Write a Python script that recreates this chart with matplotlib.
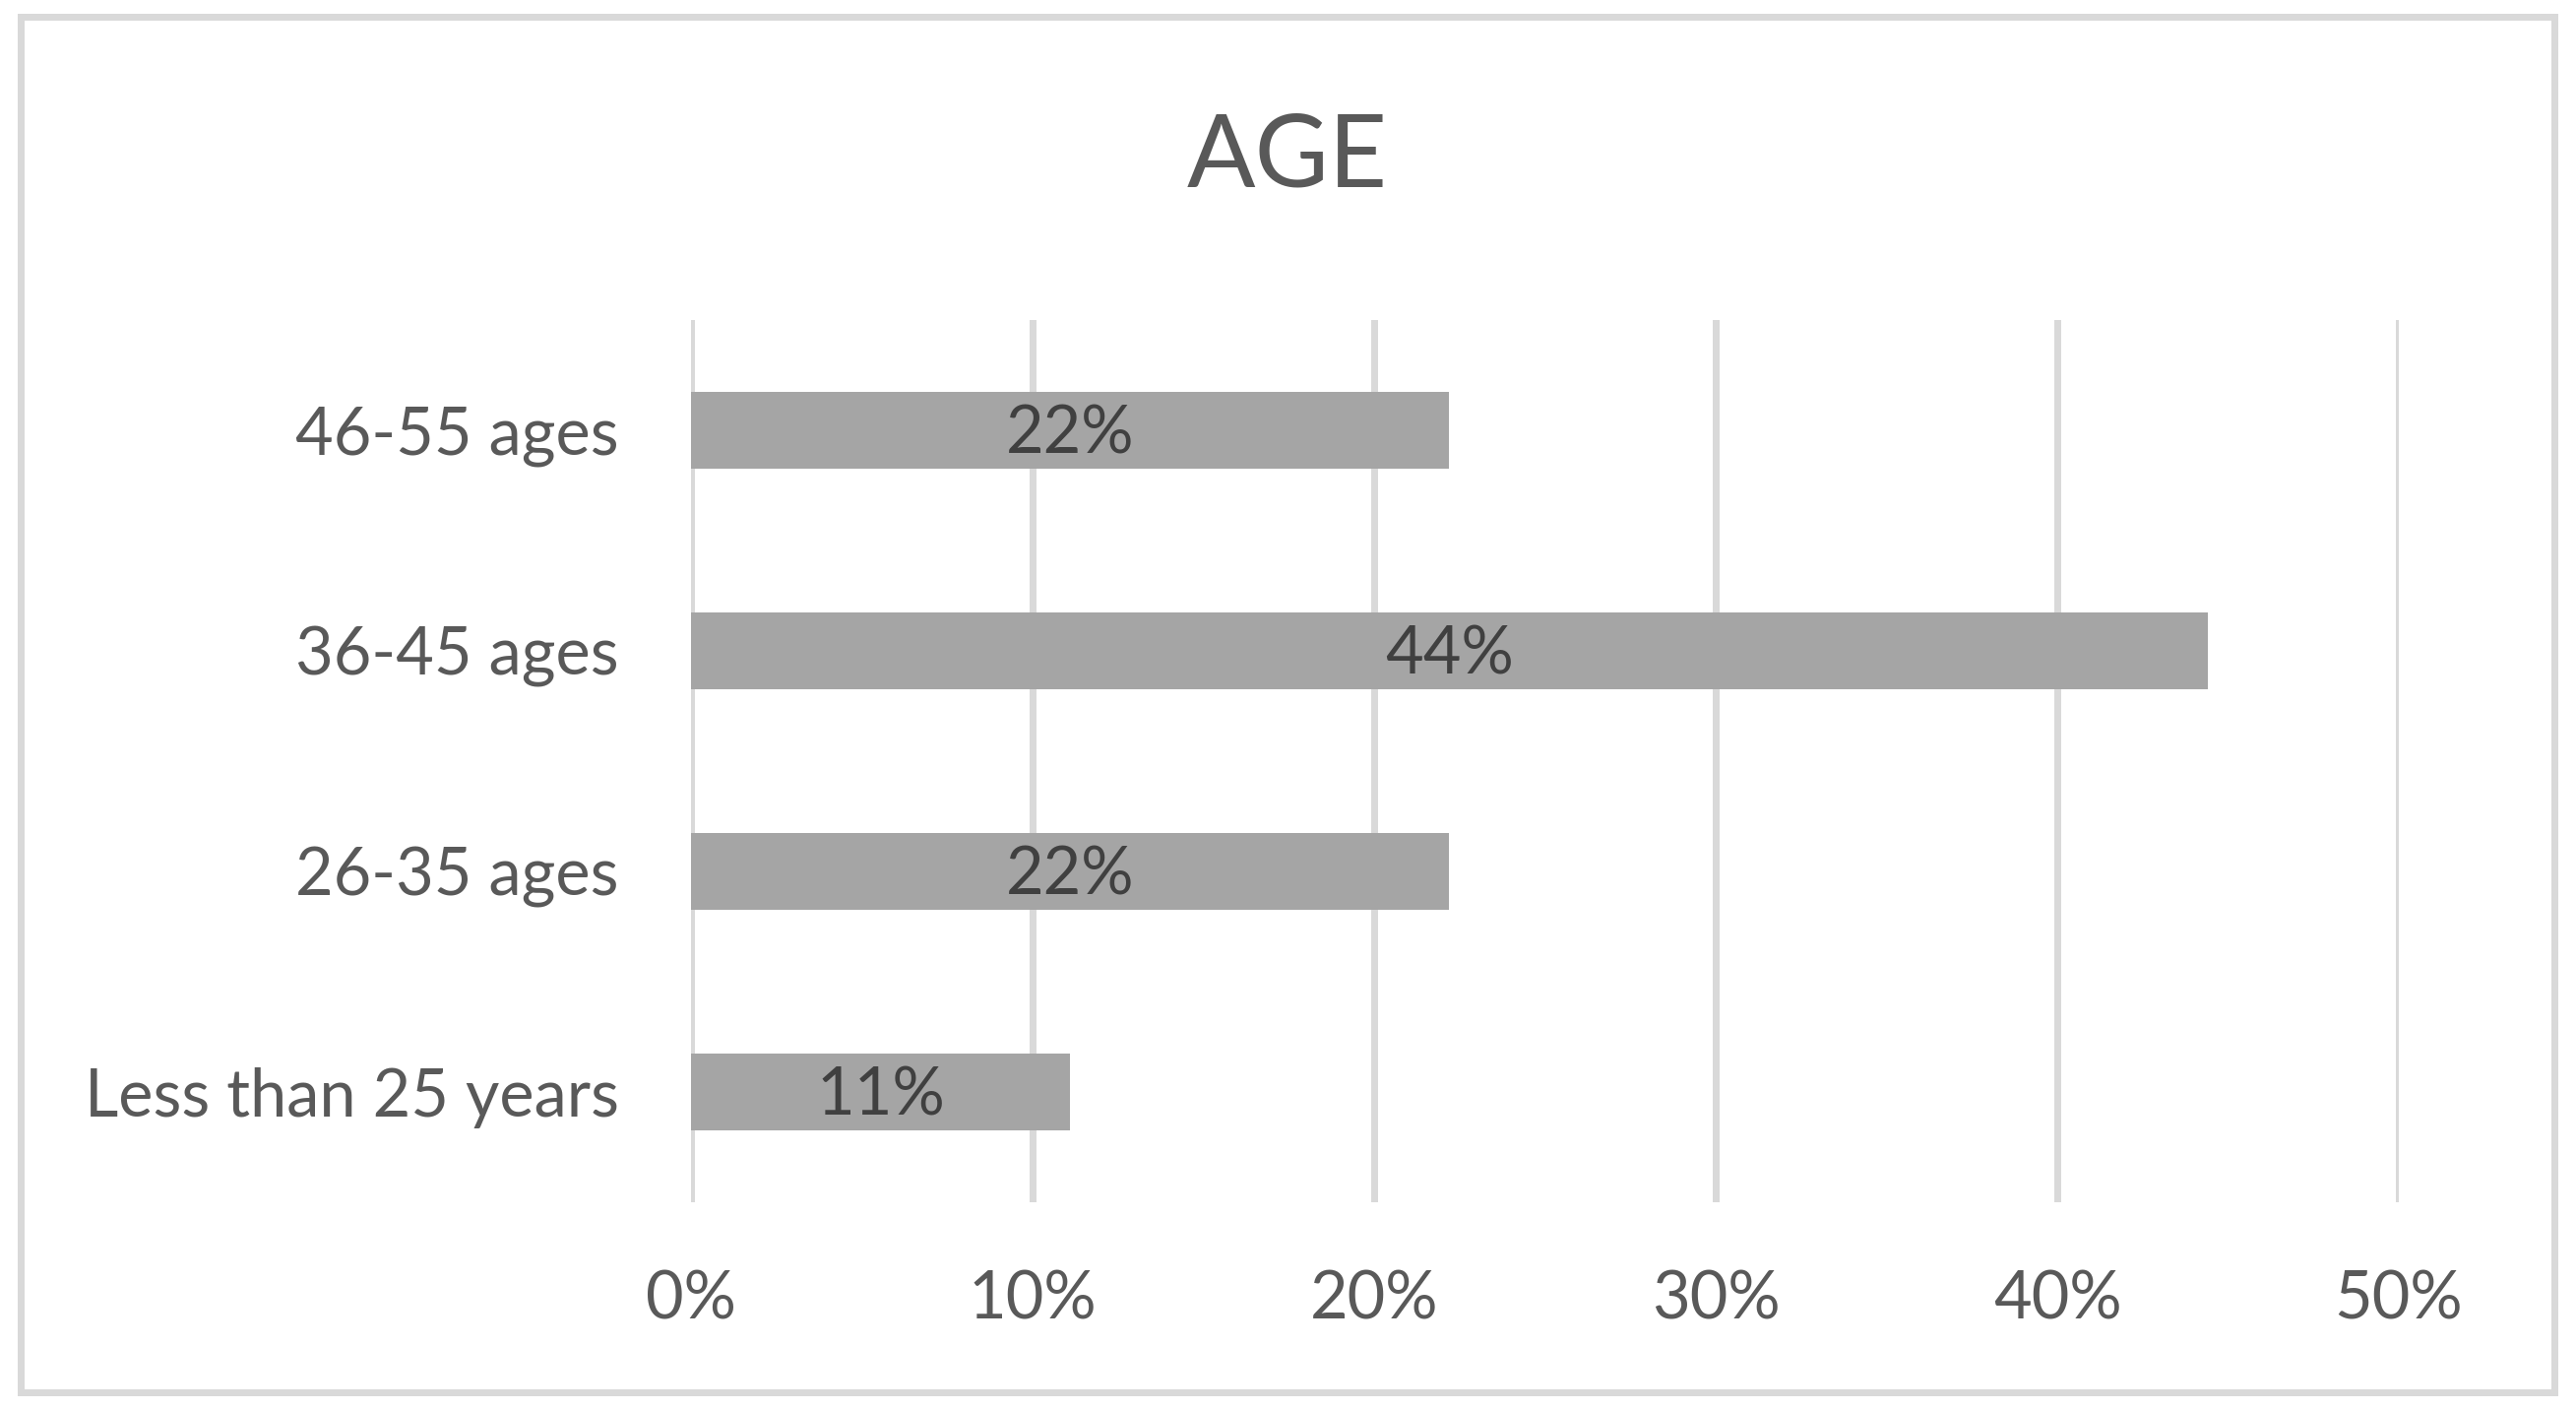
import matplotlib
matplotlib.use("Agg")
import matplotlib.pyplot as plt
from matplotlib.patches import Rectangle
from matplotlib.ticker import FuncFormatter, MultipleLocator

categories = ["Less than 25 years", "26-35 ages", "36-45 ages", "46-55 ages"]
values = [0.111, 0.222, 0.444, 0.222]
title = "AGE"

W, H = 2617, 1432
DPI = 100
plt.rcParams['font.family'] = ['Lato', 'DejaVu Sans']

fig = plt.figure(figsize=(W / DPI, H / DPI), dpi=DPI)
fig.patch.set_facecolor("white")

# outer chart border
px = lambda p: p * 72 / DPI
fig.add_artist(Rectangle((20.5 / W, 1 - 1413.5 / H), (2595 - 20.5) / W, (1413.5 - 16.5) / H,
                         transform=fig.transFigure, fill=False, edgecolor="#D9D9D9",
                         linewidth=px(7), zorder=0))

ax = fig.add_axes([702 / W, 1 - 1221 / H, (2437 - 702) / W, (1221 - 325) / H])
ypos = list(range(len(categories)))
ax.barh(ypos, values, height=0.35, color="#A5A5A5", zorder=3)
ax.set_xlim(0, 0.5)
ax.set_ylim(-0.5, len(categories) - 0.5)
ax.xaxis.set_major_locator(MultipleLocator(0.1))
ax.xaxis.set_major_formatter(FuncFormatter(lambda v, p: f"{v*100:.0f}%"))
ax.set_yticks(ypos)
ax.set_yticklabels(categories)
ax.grid(axis="x", color="#D9D9D9", linewidth=px(7), zorder=0)
ax.set_axisbelow(True)
for s in ax.spines.values():
    s.set_visible(False)
ax.tick_params(axis="both", length=0, colors="#595959", labelsize=48)
ax.tick_params(axis="y", pad=px(73))
ax.tick_params(axis="x", pad=px(68))

for y, v in zip(ypos, values):
    ax.text(v / 2, y - 0.02, f"{round(v*100):.0f}%", ha="center", va="center",
            fontsize=48, color="#404040", zorder=4)

fig.text(1308 / W, 1 - 189 / H, title, ha="center", va="baseline", fontsize=74, color="#595959")

fig.savefig("out.png", dpi=DPI, facecolor="white")
